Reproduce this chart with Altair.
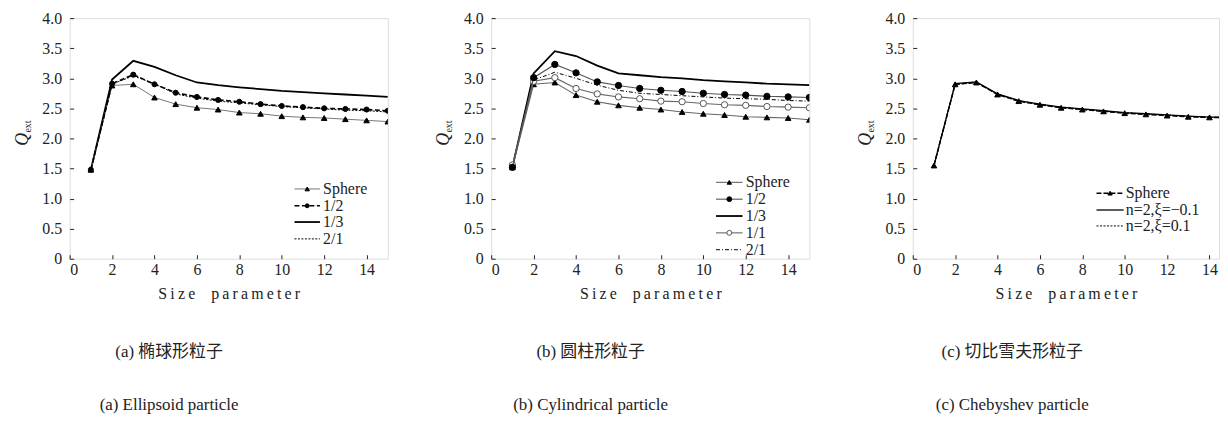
import altair as alt
import pandas as pd

X = list(range(1, 16))

# ---- Panel (a) ellipsoid ----
a_sphere = [1.48, 2.88, 2.90, 2.68, 2.57, 2.51, 2.48, 2.43, 2.41, 2.37, 2.35, 2.34, 2.32, 2.30, 2.28]
a_half = [1.48, 2.91, 3.06, 2.90, 2.76, 2.69, 2.64, 2.61, 2.57, 2.54, 2.52, 2.50, 2.49, 2.48, 2.46]
a_third = [1.48, 2.98, 3.29, 3.19, 3.05, 2.93, 2.885, 2.85, 2.82, 2.79, 2.77, 2.75, 2.73, 2.71, 2.69]
a_two = [1.48, 2.90, 3.04, 2.91, 2.74, 2.67, 2.62, 2.59, 2.56, 2.53, 2.51, 2.49, 2.47, 2.46, 2.44]

# ---- Panel (b) cylinder ----
b_sphere = [1.52, 2.90, 2.93, 2.72, 2.61, 2.55, 2.51, 2.48, 2.44, 2.41, 2.39, 2.36, 2.35, 2.34, 2.31]
b_half = [1.52, 3.01, 3.23, 3.09, 2.94, 2.88, 2.83, 2.80, 2.78, 2.75, 2.73, 2.72, 2.70, 2.69, 2.68]
b_third = [1.52, 3.08, 3.45, 3.37, 3.21, 3.08, 3.05, 3.02, 3.00, 2.97, 2.95, 2.93, 2.91, 2.90, 2.885]
b_one = [1.56, 2.95, 3.01, 2.83, 2.74, 2.69, 2.66, 2.62, 2.61, 2.58, 2.56, 2.55, 2.53, 2.52, 2.51]
b_two = [1.54, 2.97, 3.10, 3.00, 2.885, 2.80, 2.75, 2.73, 2.71, 2.69, 2.67, 2.66, 2.65, 2.63, 2.62]

# ---- Panel (c) Chebyshev ----
c_sphere = [1.55, 2.90, 2.93, 2.73, 2.62, 2.56, 2.51, 2.48, 2.45, 2.42, 2.40, 2.38, 2.36, 2.35, 2.345]
c_neg = [1.55, 2.91, 2.94, 2.74, 2.63, 2.57, 2.52, 2.49, 2.46, 2.43, 2.41, 2.39, 2.37, 2.355, 2.35]
c_pos = [1.55, 2.90, 2.93, 2.73, 2.62, 2.56, 2.515, 2.485, 2.455, 2.425, 2.405, 2.385, 2.365, 2.35, 2.345]

# legend labels and rows
a_labels = ["Sphere", "1/2", "1/3", "2/1"]
a_rows = [1.16, 0.88, 0.61, 0.33]
b_labels = ["Sphere", "1/2", "1/3", "1/1", "2/1"]
b_rows = [1.27, 0.99, 0.71, 0.43, 0.15]
c_labels = ["Sphere", "n=2,ξ=\u22120.1", "n=2,ξ=0.1"]
c_rows = [1.09, 0.81, 0.545]

captions_zh = ["(a) 椭球形粒子", "(b) 圆柱形粒子", "(c) 切比雪夫形粒子"]
captions_en = ["(a) Ellipsoid particle", "(b) Cylindrical particle", "(c) Chebyshev particle"]

X_TICKS = [0, 2, 4, 6, 8, 10, 12, 14]
Y_TICKS = [0, 0.5, 1.0, 1.5, 2.0, 2.5, 3.0, 3.5, 4.0]

SERIF = '"Liberation Serif", serif'
CJK = '"Liberation Serif", "Noto Sans CJK SC", serif'
HS = "\u2009"
XTITLE = HS.join(list("Size")) + "\u2002\u2002" + HS.join(list("parameter"))

H = 242


def style(color="black", width=1.2, dash=None, shape=None, fill="black", size=28):
    return dict(color=color, width=width, dash=dash, shape=shape, fill=fill, size=size)


def panel(xmax, width, series, lx0, lx1, ltx, cap_zh, cap_en):
    xs = alt.Scale(domain=[0, xmax], nice=False, zero=False)
    ys = alt.Scale(domain=[0, 4], nice=False, zero=False)
    xenc = alt.X("x:Q", scale=xs, axis=alt.Axis(
        values=X_TICKS, offset=-4, tickSize=4, domain=False, grid=False,
        labelPadding=3, labelFont=SERIF, labelFontSize=16, labelColor="#222",
        tickColor="#222", title=XTITLE, titleFont=SERIF, titleFontSize=16,
        titleFontWeight="normal", titleColor="#222", titlePadding=8))
    yenc = alt.Y("y:Q", scale=ys, axis=alt.Axis(
        values=Y_TICKS, offset=-4, tickSize=4, domain=False, grid=False,
        labelPadding=8, labelFont=SERIF, labelFontSize=16, labelColor="#222",
        tickColor="#222", title=None,
        labelExpr="datum.value == 0 ? '0' : format(datum.value, '.1f')"))
    layers = []
    for vals, lab, ly, st in series:
        df = pd.DataFrame({"x": X, "y": vals})
        lkw = dict(color=st["color"], strokeWidth=st["width"], clip=True)
        if st["dash"]:
            lkw["strokeDash"] = st["dash"]
        layers.append(alt.Chart(df).mark_line(**lkw).encode(x=xenc, y=yenc))
        ldf = pd.DataFrame({"x": [lx0], "x2": [lx1], "y": [ly]})
        rkw = dict(color=st["color"], strokeWidth=st["width"])
        if st["dash"]:
            rkw["strokeDash"] = st["dash"]
        layers.append(alt.Chart(ldf).mark_rule(**rkw).encode(x=xenc, x2="x2:Q", y=yenc))
        if st["shape"]:
            pkw = dict(shape=st["shape"], size=st["size"], filled=True, fill=st["fill"],
                       stroke="black" if st["fill"] == "black" else "#555", strokeWidth=1,
                       opacity=1, clip=True)
            layers.append(alt.Chart(df).mark_point(**pkw).encode(x=xenc, y=yenc))
            mdf = pd.DataFrame({"x": [(lx0 + lx1) / 2], "y": [ly]})
            pkw2 = dict(pkw)
            pkw2["size"] = st["size"] * 0.6
            layers.append(alt.Chart(mdf).mark_point(**pkw2).encode(x=xenc, y=yenc))
        tdf = pd.DataFrame({"x": [ltx], "y": [ly], "t": [lab]})
        layers.append(alt.Chart(tdf).mark_text(align="left", baseline="middle", font=SERIF,
                                               fontSize=16, color="#222").encode(
            x=xenc, y=yenc, text="t:N"))
    # y-axis title Q_ext
    qdf = pd.DataFrame({"t": ["Q"]})
    layers.append(alt.Chart(qdf).mark_text(angle=270, align="center", baseline="middle",
                                           font=SERIF, fontSize=18, fontStyle="italic",
                                           color="#222").encode(
        x=alt.value(-47), y=alt.value(122), text="t:N"))
    edf = pd.DataFrame({"t": ["ext"]})
    layers.append(alt.Chart(edf).mark_text(angle=270, align="center", baseline="middle",
                                           font=SERIF, fontSize=10, color="#222").encode(
        x=alt.value(-42), y=alt.value(109), text="t:N"))
    # captions
    zdf = pd.DataFrame({"t": [cap_zh]})
    layers.append(alt.Chart(zdf).mark_text(align="center", baseline="middle", font=CJK,
                                           fontSize=17, color="#222").encode(
        x=alt.value(100), y=alt.value(336), text="t:N"))
    ndf = pd.DataFrame({"t": [cap_en]})
    layers.append(alt.Chart(ndf).mark_text(align="center", baseline="middle", font=SERIF,
                                           fontSize=17, color="#222").encode(
        x=alt.value(100), y=alt.value(389), text="t:N"))
    return alt.layer(*layers).properties(width=width, height=H)


sA = [
    (a_third, a_labels[2], a_rows[2], style(width=1.8)),
    (a_sphere, a_labels[0], a_rows[0], style(color="#777", width=1.0, shape="triangle-up", size=32)),
    (a_two, a_labels[3], a_rows[3], style(width=1.0, dash=[2, 1.5])),
    (a_half, a_labels[1], a_rows[1], style(width=1.6, dash=[5, 2.5], shape="circle", size=26)),
]
sB = [
    (b_third, b_labels[2], b_rows[2], style(width=1.8)),
    (b_two, b_labels[4], b_rows[4], style(width=1.0, dash=[4, 2, 1, 2])),
    (b_sphere, b_labels[0], b_rows[0], style(color="#666", width=1.1, shape="triangle-up", size=32)),
    (b_one, b_labels[3], b_rows[3], style(color="#666", width=1.1, shape="circle", fill="white", size=40)),
    (b_half, b_labels[1], b_rows[1], style(color="#555", width=1.1, shape="circle", size=40)),
]
sC = [
    (c_neg, c_labels[1], c_rows[1], style(width=1.3)),
    (c_pos, c_labels[2], c_rows[2], style(width=1.0, dash=[2, 1.5])),
    (c_sphere, c_labels[0], c_rows[0], style(width=1.5, dash=[5, 2], shape="triangle-up", size=32)),
]

pA = panel(15, 320, sA, 10.6, 11.8, 11.95, captions_zh[0], captions_en[0])
pB = panel(15, 320, sB, 10.6, 11.85, 12.0, captions_zh[1], captions_en[1])
pC = panel(14.45, 308, sC, 8.67, 9.95, 10.05, captions_zh[2], captions_en[2])

chart = alt.hconcat(pA, pB, pC, spacing=104, bounds="flush").properties(
    padding={"left": 5, "top": 0, "right": 0, "bottom": 0}
).configure_view(stroke="#222", strokeWidth=1.4).configure(background="white")

chart.save("out.html", embed_options={"renderer": "svg", "actions": False})
